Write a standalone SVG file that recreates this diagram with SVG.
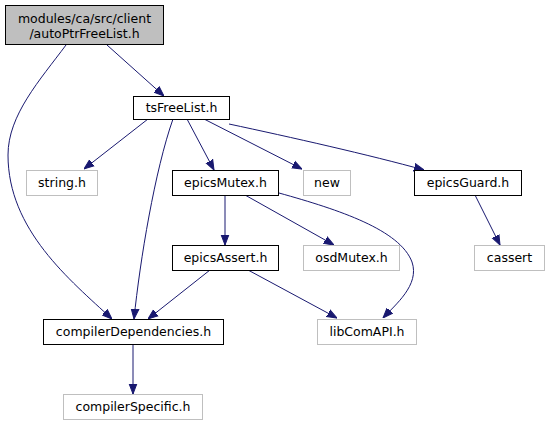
<svg xmlns="http://www.w3.org/2000/svg" width="549" height="425" viewBox="0 0 549 425">
<style>
.n rect{fill:#fff;stroke:#000;stroke-width:1}
.g rect{fill:#fff;stroke:#bfbfbf;stroke-width:1}
.root rect{fill:#bfbfbf;stroke:#000;stroke-width:1}
text{font-family:"DejaVu Sans","Liberation Sans",sans-serif;font-size:12.5px;fill:#000;text-anchor:middle}
.e path{fill:none;stroke:#191970;stroke-width:1}
</style>
<defs>
<marker id="a" viewBox="0 0 10 10" refX="10" refY="5" markerWidth="10" markerHeight="10" markerUnits="userSpaceOnUse" orient="auto">
<path d="M0,1.2 L10,5 L0,8.8 Z" fill="#191970" stroke="#191970"/>
</marker>
</defs>
<g class="e">
<path d="M107,45 L164,96" marker-end="url(#a)"/>
<path d="M66,45 C40,80 8,115 8,155 C8,230 70,280 112,319" marker-end="url(#a)"/>
<path d="M148,119 L84,169" marker-end="url(#a)"/>
<path d="M173,119 C155,170 140,260 134,319" marker-end="url(#a)"/>
<path d="M187,119 L214,170" marker-end="url(#a)"/>
<path d="M204,119 L302,169" marker-end="url(#a)"/>
<path d="M229,124 C290,137 370,155 424,170" marker-end="url(#a)"/>
<path d="M225,195 L225,245" marker-end="url(#a)"/>
<path d="M245,195 L334,245" marker-end="url(#a)"/>
<path d="M279,193 C340,210 400,230 412,262 C420,285 395,305 383,318" marker-end="url(#a)"/>
<path d="M210,270 L148,319" marker-end="url(#a)"/>
<path d="M248,270 L337,318" marker-end="url(#a)"/>
<path d="M475,195 L500,245" marker-end="url(#a)"/>
<path d="M133,344 L133,394" marker-end="url(#a)"/>
</g>
<g id="autoPtrFreeList" class="root"><rect x="5.5" y="5.5" width="158" height="39"/><text x="84.5" y="23">modules/ca/src/client</text><text x="84.5" y="38">/autoPtrFreeList.h</text></g>
<g id="tsFreeList" class="n"><rect x="133.5" y="96.5" width="96" height="23"/><text x="181.5" y="112">tsFreeList.h</text></g>
<g id="string" class="g"><rect x="26.5" y="170.5" width="71" height="25"/><text x="62" y="187">string.h</text></g>
<g id="epicsMutex" class="n"><rect x="172.5" y="170.5" width="106" height="25"/><text x="225.5" y="187">epicsMutex.h</text></g>
<g id="new" class="g"><rect x="303.5" y="170.5" width="47" height="25"/><text x="327" y="187">new</text></g>
<g id="epicsGuard" class="n"><rect x="414.5" y="170.5" width="107" height="25"/><text x="468" y="187">epicsGuard.h</text></g>
<g id="epicsAssert" class="n"><rect x="172.5" y="245.5" width="106" height="25"/><text x="225.5" y="262">epicsAssert.h</text></g>
<g id="osdMutex" class="g"><rect x="303.5" y="245.5" width="96" height="25"/><text x="351.5" y="262">osdMutex.h</text></g>
<g id="cassert" class="g"><rect x="474.5" y="245.5" width="70" height="25"/><text x="509.5" y="262">cassert</text></g>
<g id="compilerDependencies" class="n"><rect x="43.5" y="319.5" width="180" height="25"/><text x="133.5" y="336">compilerDependencies.h</text></g>
<g id="libComAPI" class="g"><rect x="317.5" y="319.5" width="99" height="25"/><text x="367" y="336">libComAPI.h</text></g>
<g id="compilerSpecific" class="g"><rect x="63.5" y="394.5" width="139" height="25"/><text x="133" y="411">compilerSpecific.h</text></g>
</svg>
